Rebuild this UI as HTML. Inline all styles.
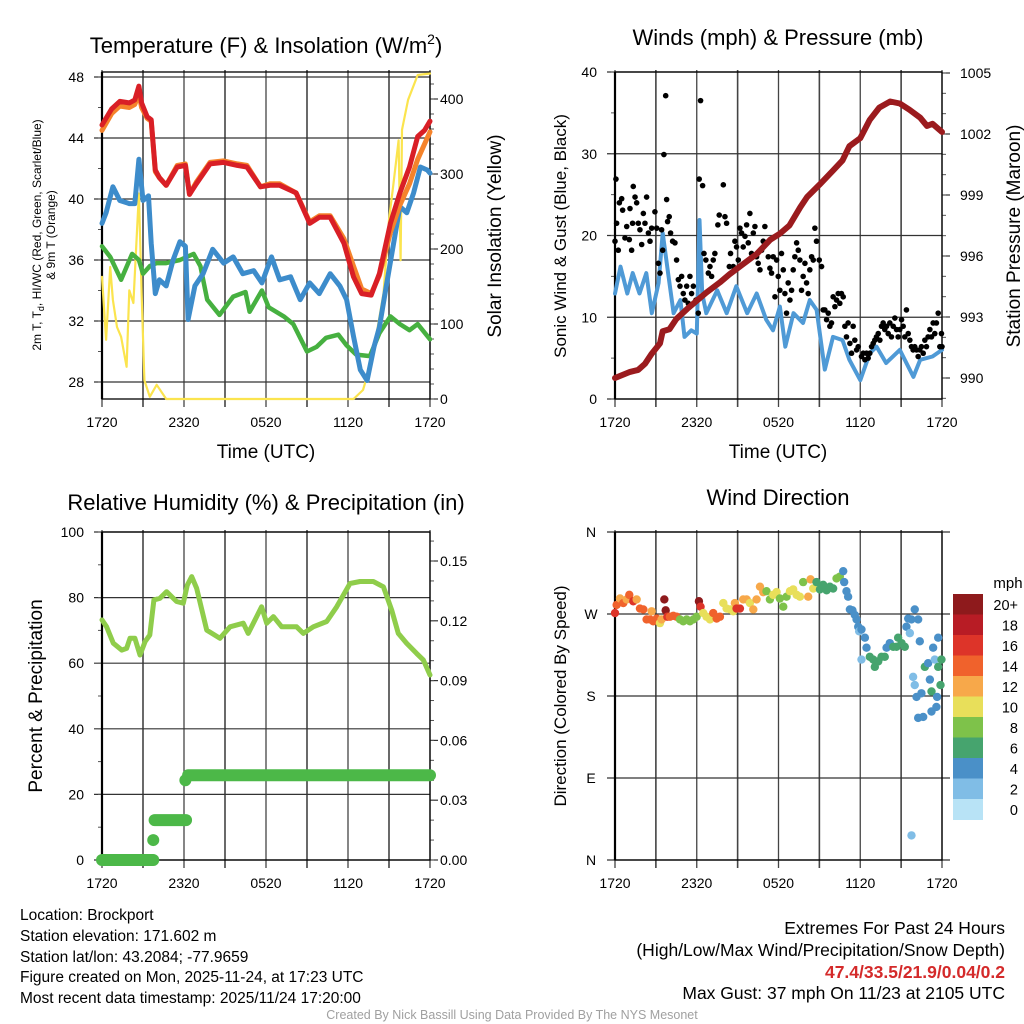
<!DOCTYPE html>
<html><head><meta charset="utf-8">
<style>
html,body{margin:0;padding:0;background:#fff;}
svg{display:block;font-family:"Liberation Sans",sans-serif;}
.n{font-family:"Liberation Sans Narrow","Liberation Sans",sans-serif;}
</style></head>
<body>
<svg id="fig" width="1024" height="1024" viewBox="0 0 1024 1024" xmlns="http://www.w3.org/2000/svg">
<rect width="1024" height="1024" fill="#fff"/>
<text x="266" y="53" font-size="22" text-anchor="middle">Temperature (F) &amp; Insolation (W/m<tspan font-size="14" dy="-9">2</tspan><tspan dy="9">)</tspan></text>
<text x="778" y="45" font-size="22" text-anchor="middle">Winds (mph) &amp; Pressure (mb)</text>
<text x="266" y="510" font-size="22" text-anchor="middle">Relative Humidity (%) &amp; Precipitation (in)</text>
<text x="778" y="505" font-size="22" text-anchor="middle">Wind Direction</text>
<text x="266" y="458" font-size="19" text-anchor="middle">Time (UTC)</text>
<text x="778" y="458" font-size="19" text-anchor="middle">Time (UTC)</text>
<text font-size="12" text-anchor="middle" transform="translate(41,235) rotate(-90)">2m T, T<tspan font-size="9" dy="3">d</tspan><tspan dy="-3">, HI/WC (Red, Green, Scarlet/Blue)</tspan></text>
<text font-size="12" text-anchor="middle" transform="translate(55,235) rotate(-90)">&amp; 9m T (Orange)</text>
<text font-size="19" text-anchor="middle" transform="translate(501,236) rotate(-90)">Solar Insolation (Yellow)</text>
<text font-size="17" text-anchor="middle" transform="translate(566,236) rotate(-90)">Sonic Wind &amp; Gust (Blue, Black)</text>
<text font-size="19" text-anchor="middle" transform="translate(1020,236) rotate(-90)">Station Pressure (Maroon)</text>
<text font-size="19" text-anchor="middle" transform="translate(42,696) rotate(-90)">Percent &amp; Precipitation</text>
<text font-size="17" text-anchor="middle" transform="translate(566,696) rotate(-90)">Direction (Colored By Speed)</text>
<text x="1008" y="588" font-size="15" text-anchor="middle">mph</text>
<g class="n" font-size="15.5">
<text x="20" y="920">Location: Brockport</text>
<text x="20" y="941">Station elevation: 171.602 m</text>
<text x="20" y="962">Station lat/lon: 43.2084; -77.9659</text>
<text x="20" y="982">Figure created on Mon, 2025-11-24, at 17:23 UTC</text>
<text x="20" y="1003">Most recent data timestamp: 2025/11/24 17:20:00</text>
</g>
<g class="n" font-size="17.5" text-anchor="end">
<text x="1005" y="934">Extremes For Past 24 Hours</text>
<text x="1005" y="956">(High/Low/Max Wind/Precipitation/Snow Depth)</text>
<text x="1005" y="978" fill="#d42a2a" font-weight="bold">47.4/33.5/21.9/0.04/0.2</text>
<text x="1005" y="999">Max Gust: 37 mph On 11/23 at 2105 UTC</text>
</g>
<text class="n" x="512" y="1019" font-size="12.5" fill="#a0a0a0" text-anchor="middle">Created By Nick Bassill Using Data Provided By The NYS Mesonet</text>
</svg>
<script>
// ---------- DATA ----------
const xTickLabels = ["1720","2320","0520","1120","1720"];
const tempLeftTicks = [28,32,36,40,44,48];
const solarTicks = [0,100,200,300,400];
const windTicks = [0,10,20,30,40];
const pressTicks = [990,993,996,999,1002,1005];
const rhTicks = [0,20,40,60,80,100];
const precipTicks = [0.00,0.03,0.06,0.09,0.12,0.15];
const precipTickLabels = ["0.00","0.03","0.06","0.09","0.12","0.15"];
const dirTicks = [0,90,180,270,360];
const dirTickLabels = ["N","E","S","W","N"];
const speedBins = ["20+","18","16","14","12","10","8","6","4","2","0"];
const speedColors = ["#8e1a1c","#b81c25","#dd3429","#f0622c","#f7a84a","#e8df5a","#7ec24a","#46a46e","#4a90c8","#80bde6","#b8e3f6"];

const tempT = [0,0.7,1.3,2.0,2.4,2.7,2.9,3.3,3.6,3.9,4.2,4.7,5.5,6.1,6.4,6.9,7.9,8.9,9.9,10.6,11.6,12.3,13.0,14.2,15.2,15.9,16.7,17.7,18.4,19.0,19.7,20.3,21.1,21.8,22.5,23.1,23.6,24];
const tempRed = [44.85,45.9,46.4,46.3,46.5,47.4,46.3,45.4,45.2,41.9,41.4,40.9,42.1,42.2,40.3,41.0,42.3,42.4,42.2,42.1,40.8,40.9,40.9,40.4,38.4,38.8,38.8,37.1,34.9,33.8,33.7,35.1,38.4,40.4,42.1,44.1,44.5,45.1];
const tempOrange = [44.5,45.6,46.1,46.0,46.2,46.9,46.0,45.3,45.1,41.8,41.4,40.9,42.2,42.3,40.3,41.1,42.4,42.5,42.3,42.2,40.8,41.0,41.0,40.4,38.5,38.9,38.9,37.4,35.6,34.1,33.8,35.0,37.8,39.6,41.0,42.6,43.6,44.4];
const wcT = [0,0.3,0.8,1.3,2.0,2.4,2.7,3.0,3.4,3.6,3.9,4.2,4.7,5.2,5.7,6.1,6.3,6.8,7.4,8.1,8.9,9.6,10.3,11.1,11.7,12.4,13.0,13.8,14.5,15.2,15.9,16.7,17.4,17.9,18.4,18.9,19.4,19.9,20.3,20.8,21.3,21.8,22.3,22.8,23.3,23.8,24];
const wcBlue = [38.4,39.1,40.8,39.9,39.7,39.7,42.6,39.9,40.2,37.1,33.8,34.7,34.3,36.0,37.2,36.9,32.1,34.3,35.1,36.7,35.8,36.2,35.1,35.3,34.5,36.2,34.7,34.9,33.4,34.5,33.8,35.1,34.3,33.4,31.0,28.8,28.1,30.3,31.6,34.3,36.9,39.5,39.1,40.4,42.1,41.9,41.7];
const dewT = [0,0.6,1.4,2.2,2.7,3.0,3.5,4.0,4.7,5.7,6.7,7.2,7.7,8.6,9.6,10.5,10.8,11.7,12.2,13.3,14.0,15.0,15.7,16.4,17.3,17.9,18.6,19.6,20.3,21.1,21.8,22.5,23.1,24];
const dewGreen = [36.9,36.2,34.7,36.4,36.0,35.1,35.6,35.8,35.8,36.0,36.4,35.6,33.4,32.4,33.6,33.9,32.6,34.0,32.9,32.3,31.8,30.0,30.3,30.9,31.1,30.4,29.8,29.7,31.2,32.3,31.8,31.4,31.8,30.8];
const solarT = [0,0.3,0.6,0.8,1.1,1.4,1.8,2.0,2.3,2.5,2.7,2.9,3.1,3.5,4.0,4.7,18.4,19.1,19.6,20.1,20.6,21.0,21.3,21.7,21.85,21.95,22.4,23.1,24];
const solarVal = [163,79,176,132,96,83,43,145,128,203,274,141,25,3,19,0,0,12,43,88,141,239,283,345,185,359,399,432,434];

const pressT = [0,1.1,1.7,2.2,2.7,3.3,3.5,4.0,4.5,5.3,6.0,6.7,7.7,8.4,9.4,10.4,11.4,12.1,12.8,13.6,14.1,15.0,16.0,16.7,17.2,18.0,18.7,19.4,20.2,20.9,21.6,22.4,22.9,23.3,24];
const pressVal = [990.0,990.3,990.4,990.7,991.2,991.7,992.3,992.4,992.9,993.4,993.8,994.2,994.7,995.1,995.6,996.1,996.8,997.1,997.5,998.4,998.9,999.5,1000.2,1000.7,1001.4,1001.8,1002.7,1003.3,1003.6,1003.5,1003.2,1002.8,1002.4,1002.5,1002.1];
const windT = [0,0.4,0.9,1.3,1.8,2.3,2.7,3.2,3.5,3.9,4.3,4.8,5.1,5.6,6.0,6.2,6.4,6.7,7.5,8.2,8.9,9.7,10.4,11.1,11.6,12.1,12.5,13.1,13.8,14.3,14.8,15.4,16.0,16.7,17.2,18.0,18.7,19.2,19.9,20.9,21.9,22.4,23.3,24];
const windVal = [12.9,16.2,12.9,15.4,12.9,15.4,10.5,14.2,20.3,15.4,10.5,12.1,7.6,8.4,8.0,21.9,12.9,10.5,13.3,10.5,13.8,10.5,12.9,9.7,8.4,11.3,6.4,10.5,9.3,12.1,10.9,3.6,7.6,7.2,4.8,2.3,5.6,6.4,4.4,6.0,2.7,4.8,5.2,6.0];
const gustT = [0,0.07,0.12,0.24,0.32,0.49,0.56,0.73,0.86,1.05,1.10,1.22,1.29,1.34,1.47,1.59,1.71,1.83,1.96,2.08,2.20,2.32,2.45,2.57,2.69,2.93,3.06,3.18,3.30,3.42,3.50,3.59,3.72,3.79,3.86,3.98,4.08,4.23,4.40,4.52,4.65,4.77,4.89,5.01,5.13,5.26,5.38,5.50,5.62,5.75,5.94,6.11,6.18,6.28,6.43,6.53,6.67,6.85,6.97,7.09,7.21,7.33,7.55,7.65,7.95,8.07,8.19,8.39,8.48,8.68,8.80,8.92,9.05,9.17,9.29,9.41,9.54,9.66,9.78,9.90,10.02,10.15,10.27,10.39,10.51,10.64,10.76,10.88,11.00,11.12,11.25,11.37,11.49,11.61,11.74,11.86,11.98,12.10,12.22,12.35,12.47,12.59,12.71,12.84,12.96,13.08,13.20,13.33,13.45,13.57,13.69,13.81,13.94,14.06,14.18,14.30,14.43,14.55,14.67,14.79,14.99,15.16,15.28,15.40,15.53,15.65,15.77,15.89,16.01,16.14,16.26,16.38,16.50,16.62,16.75,16.87,16.99,17.11,17.24,17.36,17.48,17.60,17.73,17.85,18.09,18.22,18.34,18.46,18.58,18.70,18.83,18.95,19.07,19.19,19.32,19.44,19.56,19.68,19.80,19.93,20.05,20.17,20.29,20.42,20.54,20.66,20.78,20.90,21.03,21.15,21.27,21.39,21.52,21.64,21.76,21.88,22.00,22.13,22.25,22.37,22.49,22.62,22.74,22.86,22.98,23.11,23.23,23.35,23.47,23.59,23.72,23.84,23.96,24];
const gustVal = [19.3,26.9,21.5,18.2,24.0,24.5,23.1,19.7,21.1,19.5,23.3,18.2,21.5,26.0,24.7,24.0,21.5,20.7,18.9,22.7,21.5,24.7,20.3,19.3,20.9,22.9,20.9,16.6,15.4,20.7,18.2,29.9,37.1,24.4,21.7,22.3,20.3,19.3,19.1,17.0,14.6,13.8,15.0,12.9,12.1,13.8,11.7,15.0,12.9,13.8,12.1,10.5,26.9,36.5,26.1,17.8,17.0,15.4,16.2,15.0,17.0,17.8,21.3,22.5,26.2,22.3,21.5,16.2,17.8,16.2,19.3,18.6,17.0,20.9,20.3,18.6,19.9,21.3,19.1,22.7,17.8,20.3,21.1,17.4,16.6,15.8,18.2,19.3,21.1,19.1,17.4,16.0,15.4,17.4,12.5,17.0,15.0,13.3,17.8,15.8,12.9,10.5,14.2,12.1,13.3,15.8,17.4,19.1,18.2,17.0,13.3,15.0,16.6,14.2,12.9,15.8,17.4,17.0,20.9,19.3,17.0,16.2,10.9,10.9,9.7,10.5,8.9,9.3,12.5,11.3,12.1,12.9,11.7,12.9,12.5,8.9,7.6,9.3,6.8,5.6,8.9,7.2,6.0,6.4,5.2,5.6,4.8,5.6,5.0,5.6,6.4,6.8,7.2,7.6,8.0,7.2,8.9,9.3,8.5,8.9,8.0,9.3,7.6,8.9,9.9,8.5,7.6,8.5,9.7,8.9,7.6,10.9,8.0,7.2,6.4,6.0,6.4,6.0,5.2,6.0,6.4,5.6,7.2,6.4,7.6,8.5,7.6,9.3,8.0,9.3,10.5,6.4,8.0,6.4,11.1,10.1];

const rhT = [0,0.34,0.83,1.44,1.8,2.05,2.41,2.78,3.15,3.5,3.8,4.24,4.73,5.46,5.95,6.24,6.56,6.93,7.66,8.63,9.37,10.34,10.7,11.68,12.05,12.54,13.15,14.24,14.73,15.46,16.44,17.17,18.15,18.88,19.85,20.59,21.2,21.68,22.29,23.02,23.51,24];
const rhVal = [73.2,71.1,66.1,64,64.5,67.6,67.6,62.5,66.6,68.6,79.3,79.8,81.8,78.8,78.3,83.8,86.4,82.8,70.1,67.6,71.1,72.2,69.1,77.2,72.2,74.2,71.1,71.1,69.1,71.1,72.7,77.2,84.3,84.9,84.9,83.3,76.2,69.1,66.1,63,61,56.4];
const precipStart = [0,3.75,3.85,6.1,6.3];
const precipEnd = [3.75,3.75,6.15,6.1,24];
const precipVal = [0.0,0.01,0.02,0.040,0.0425];

const dirT = [0,0.12,0.37,0.61,0.86,1.05,1.34,1.59,1.83,2.08,2.32,2.57,2.69,2.81,3.06,3.30,3.42,3.62,3.72,3.84,4.03,4.28,4.52,4.77,5.01,5.26,5.50,5.75,5.99,6.16,6.28,6.48,6.72,6.97,7.21,7.46,7.70,7.95,8.19,8.44,8.68,8.80,8.92,9.17,9.41,9.66,9.90,10.15,10.39,10.64,10.88,11.12,11.37,11.61,11.86,12.10,12.35,12.59,12.84,13.08,13.33,13.57,13.81,14.18,14.35,14.55,14.79,15.04,15.28,15.53,15.77,16.01,16.26,16.50,16.75,16.82,16.99,17.11,17.24,17.43,17.60,17.73,17.85,17.92,18.09,18.34,18.46,18.09,18.70,18.95,19.07,19.32,19.56,19.80,19.93,20.17,20.42,20.66,20.78,21.03,21.27,21.39,21.52,21.64,21.76,22.00,22.25,21.88,22.00,22.13,22.25,22.37,22.49,22.62,22.74,22.98,23.11,23.23,23.23,23.35,23.47,23.59,23.64,23.72,23.72,23.96,23.89,21.76];
const dirVal = [271,280,287,282,286,291,284,286,276,275,264,264,273,262,265,260,264,286,274,267,267,268,267,264,262,264,262,264,267,284,278,271,267,264,271,265,267,282,276,275,273,282,276,276,286,286,282,275,286,300,294,295,286,291,294,287,278,289,295,297,291,289,305,289,308,298,305,297,302,296,300,298,309,311,317,305,295,289,275,274,269,264,256,251,253,244,233,220,223,220,212,218,223,223,233,238,234,234,244,238,234,256,265,249,264,275,264,201,192,179,156,240,183,157,212,216,198,185,163,233,220,168,179,244,212,220,192,27];
const dirSpeed = [16,14,12,14,12,14,16,12,14,14,14,14,12,14,14,10,12,20,20,16,14,14,14,8,8,8,8,8,8,20,16,10,10,10,14,14,14,10,10,10,10,12,16,16,12,12,10,12,12,12,12,8,8,10,10,8,8,8,10,10,10,10,8,12,12,10,6,6,6,6,6,6,8,8,4,4,4,4,4,4,4,4,4,2,4,4,4,2,6,6,6,6,6,6,4,4,6,6,6,6,6,4,4,2,4,4,4,2,2,4,4,4,4,4,6,4,4,6,4,4,2,4,4,4,6,6,6,2];

// ---------- DRAW ----------
const NS = "http://www.w3.org/2000/svg";
const svg = document.getElementById("fig");
function mk(tag, parent){ const e=document.createElementNS(NS,tag); (parent||svg).appendChild(e); return e; }
function setA(e,o){ for(const k in o) e.setAttribute(k,o[k]); return e; }

const panels = {
  temp:{x0:102,x1:430,y0:72,y1:399},
  wind:{x0:615,x1:942,y0:72,y1:399},
  rh:{x0:102,x1:430,y0:532,y1:860},
  dir:{x0:615,x1:942,y0:532,y1:860}
};
function xScale(p){ return t => p.x0 + t/24*(p.x1-p.x0); }
function linScale(v0,y0,v1,y1){ return v => y0 + (v-v0)*(y1-y0)/(v1-v0); }

const sxT = xScale(panels.temp), sxW = xScale(panels.wind), sxR = xScale(panels.rh), sxD = xScale(panels.dir);
const yTemp = linScale(28,382,48,77);
const ySolar = linScale(0,399,400,99);
const yWind = linScale(0,399,40,72);
const yPress = linScale(990,378,1005,73);
const yRH = linScale(0,860,100,532);
const yPrecip = linScale(0,860,0.15,561);
const yDir = linScale(0,860,360,532);

function frame(p, name, sx, leftTicks, leftScale, leftLabels, lx, rightTicks, rightScale, rightLabels, rx, leftMinor, rightMinor, gridFromLeft){
  const g = mk("g");
  
  
  for(let h=0; h<=24; h+=3){
    const x = sx(h);
    const l = mk("line", g);
    
    
    setA(l,{x1:x,x2:x,y1:p.y0-2,y2:p.y1+8,stroke:"#444","stroke-width":h%6==0?1.3:1.6});
  }
  leftTicks.forEach(v=>{
    const y = leftScale(v);
    const l = mk("line", g);
    
    
    setA(l,{x1:p.x0-8,x2:p.x1+(gridFromLeft?8:0),y1:y,y2:y,stroke:"#333","stroke-width":1.2});
  });
  leftMinor.forEach(v=>{
    const y = leftScale(v);
    const l = mk("line", g);
    
    
    setA(l,{x1:p.x0-4,x2:p.x0,y1:y,y2:y,stroke:"#555","stroke-width":1});
  });
  if(rightScale){
    rightTicks.forEach(v=>{
      const y=rightScale(v);
      const l = mk("line", g);
      
      
      setA(l,{x1:p.x1,x2:p.x1+8,y1:y,y2:y,stroke:"#333","stroke-width":1.2});
    });
    rightMinor.forEach(v=>{
      const y=rightScale(v);
      const l = mk("line", g);
      
      
      setA(l,{x1:p.x1,x2:p.x1+4,y1:y,y2:y,stroke:"#555","stroke-width":1});
    });
  }
  const r = mk("rect", g);
  
  
  setA(r,{x:p.x0,y:p.y0,width:p.x1-p.x0,height:p.y1-p.y0,fill:"none",stroke:"#000","stroke-width":1.3});
  const lf = mk("line", g);
  
  
  setA(lf,{x1:p.x0,x2:p.x0,y1:p.y0,y2:p.y1,stroke:"#000","stroke-width":2.2});
  leftTicks.forEach((v,i)=>{
    const t = mk("text", g);
    
    
    setA(t,{x:lx,y:leftScale(v)+5,"font-size":14,"text-anchor":leftLabels.anchor||"end"});
    t.textContent = leftLabels.list[i];
  });
  if(rightScale){
    rightTicks.forEach((v,i)=>{
      const t = mk("text", g);
      
      
      setA(t,{x:rx,y:rightScale(v)+5,"font-size":14,"text-anchor":"start"});
      t.textContent = rightLabels[i];
    });
  }
  xTickLabels.forEach((s,i)=>{
    const t = mk("text", g);
    
    
    setA(t,{x:sx(i*6),y:p.y1+28,"font-size":14,"text-anchor":"middle"});
    t.textContent = s;
  });
  return g;
}
function range(a,b,s){ const r=[]; for(let v=a; v<=b+1e-9; v+=s) r.push(v); return r; }

frame(panels.temp,"temp-panel",sxT,tempLeftTicks,yTemp,{list:tempLeftTicks.map(String)},84,
  solarTicks,ySolar,solarTicks.map(String),440,range(28,48,2),range(0,420,20),false);
frame(panels.wind,"wind-panel",sxW,windTicks,yWind,{list:windTicks.map(String)},597,
  pressTicks,yPress,pressTicks.map(String),960,range(0,40,5),range(989,1005,1),false);
frame(panels.rh,"rh-panel",sxR,rhTicks,yRH,{list:rhTicks.map(String)},84,
  precipTicks,yPrecip,precipTickLabels,440,range(0,100,10),range(0,0.165,0.01),false);
frame(panels.dir,"dir-panel",sxD,dirTicks,yDir,{list:dirTickLabels,anchor:"middle"},591,
  [],null,[],0,[],[],true);

function line(tArr,vArr,sx,sy,color,w,name){
  const d = tArr.map((t,i)=>(i?"L":"M")+sx(t).toFixed(1)+","+sy(vArr[i]).toFixed(1)).join("");
  const p = mk("path");
  
  
  setA(p,{d:d,fill:"none",stroke:color,"stroke-width":w,"stroke-linejoin":"round","stroke-linecap":"round"});
  return p;
}
line(solarT,solarVal,sxT,ySolar,"#fbe44e",2.2,"solar-insolation-line");
line(dewT,dewGreen,sxT,yTemp,"#46b040",4.5,"dewpoint-line");
line(wcT,wcBlue,sxT,yTemp,"#3d8ccb",5,"windchill-line");
line(tempT,tempOrange,sxT,yTemp,"#f5832b",5,"temp-9m-line");
line(tempT,tempRed,sxT,yTemp,"#d91f26",5,"temp-2m-line");

line(windT,windVal,sxW,yWind,"#4f9ad6",4,"sustained-wind-line");
gustT.forEach((t,i)=>{
  const c = mk("circle");
  
  
  setA(c,{cx:sxW(t),cy:yWind(gustVal[i]),r:2.8,fill:"#000"});
});
line(pressT,pressVal,sxW,yPress,"#9b1b1e",6,"pressure-line");

line(rhT,rhVal,sxR,yRH,"#8fcd4b",5,"relative-humidity-line");
precipStart.forEach((s,i)=>{
  const l = mk("line");
  
  
  const y = yPrecip(precipVal[i]);
  setA(l,{x1:sxR(s),x2:sxR(precipEnd[i]),y1:y,y2:y,stroke:"#4cb848","stroke-width":12,"stroke-linecap":"round"});
});

function speedColor(s){ const idx = Math.max(0, Math.min(10, 10 - Math.floor(s/2))); return speedColors[idx]; }
dirT.forEach((t,i)=>{
  const c = mk("circle");
  
  
  setA(c,{cx:sxD(t),cy:yDir(dirVal[i]),r:4.2,fill:speedColor(dirSpeed[i])});
});

speedBins.forEach((lab,i)=>{
  const y = 594 + i*20.5;
  const r = mk("rect");
  
  
  setA(r,{x:953,y:y,width:30,height:21,fill:speedColors[i]});
  const t = mk("text");
  
  
  setA(t,{x:1018,y:y+16,"font-size":14.5,"text-anchor":"end"});
  t.textContent = lab;
});
</script>
</body></html>
